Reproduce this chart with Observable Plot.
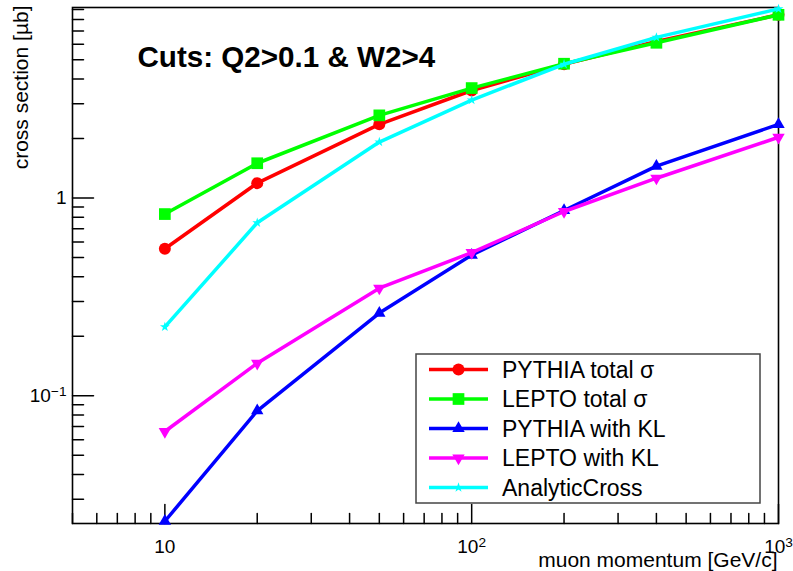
<!DOCTYPE html>
<html>
<head>
<meta charset="utf-8">
<script src="https://cdn.jsdelivr.net/npm/d3@7"></script>
<script src="https://cdn.jsdelivr.net/npm/@observablehq/plot@0.6"></script>
<style>
  html, body { margin: 0; padding: 0; background: #fff; }
  #chart svg { display: block; }
</style>
</head>
<body>
<div id="chart"></div>
<script>
// ---- data ----
const momentum = [10, 20, 50, 100, 200, 400, 1000];           // GeV/c
const pythiaTotal = [0.554, 1.19, 2.36, 3.50, 4.75, 6.2, 8.45];
const leptoTotal  = [0.83, 1.50, 2.62, 3.60, 4.78, 6.1, 8.45];
const pythiaKL    = [0.0232, 0.084, 0.262, 0.515, 0.865, 1.45, 2.36];
const leptoKL     = [0.066, 0.146, 0.35, 0.53, 0.855, 1.26, 2.03];
const analytic    = [0.223, 0.75, 1.92, 3.13, 4.75, 6.5, 9.05];

const seriesNames  = ["PYTHIA total σ", "LEPTO total σ", "PYTHIA with KL", "LEPTO with KL", "AnalyticCross"];
const seriesValues = [pythiaTotal, leptoTotal, pythiaKL, leptoKL, analytic];
const seriesColors = ["#ff0000", "#00ff00", "#0000ff", "#ff00ff", "#00ffff"];

const xMajorTicks  = [10, 100, 1000];
const xMajorLabels = ["10", "10²", "10³"];
const yMajorTicks  = [0.1, 1];
const yMajorLabels = ["10⁻¹", "1"];

const titleText  = "Cuts: Q2>0.1 & W2>4";
const xLabelText = "muon momentum [GeV/c]";
const yLabelText = "cross section [µb]";

// ---- derived ----
const xDomain = [5, 1000];
const yDomain = [0.0226, 9.2];
const rows = seriesNames.flatMap((name, i) =>
  momentum.map((p, j) => ({series: name, p, v: seriesValues[i][j]})));

const inside = (v, [a, b]) => v >= a && v <= b;
const xMinorTicks = [];
for (const d of [1, 10, 100]) for (let k = 2; k <= 9; k++) if (inside(k * d, xDomain)) xMinorTicks.push(k * d);
const yMinorTicks = [];
for (const d of [0.01, 0.1, 1]) for (let k = 2; k <= 9; k++) if (inside(k * d, yDomain)) yMinorTicks.push(k * d);

const triangleDown = {
  draw(context, size) {
    const y = -Math.sqrt(size / (Math.sqrt(3) * 3));
    context.moveTo(0, -y * 2);
    context.lineTo(-Math.sqrt(3) * y, y);
    context.lineTo(Math.sqrt(3) * y, y);
    context.closePath();
  }
};
const seriesSymbols = [d3.symbolCircle, d3.symbolSquare, d3.symbolTriangle, triangleDown, d3.symbolStar];
const seriesR = [6, 6.6, 4.6, 4.6, 3.1];

const fmt = (ticks, labels) => d => labels[ticks.indexOf(d)] ?? "";

const seriesMarks = seriesNames.flatMap((name, i) => {
  const data = rows.filter(r => r.series === name);
  return [
    Plot.line(data, {x: "p", y: "v", stroke: seriesColors[i], strokeWidth: 3.5}),
    Plot.dot(data, {x: "p", y: "v", fill: seriesColors[i], stroke: "none", r: seriesR[i], symbol: seriesSymbols[i]})
  ];
});

// inward ROOT-style ticks, drawn as plain vectors anchored on the frame
const tickShape = {draw(context, l) { context.moveTo(0, 0); context.lineTo(0, -l); }};
const tickStyle = {stroke: "#000", strokeWidth: 1.5, anchor: "start", shape: tickShape};
const xTicks = (ticks, len) => Plot.vector(ticks, {x: d => d, frameAnchor: "bottom", rotate: 0, length: len, ...tickStyle});
const yTicks = (ticks, len) => Plot.vector(ticks, {y: d => d, frameAnchor: "left", rotate: 90, length: len, ...tickStyle});

const chart = Plot.plot({
  width: 793,
  height: 571,
  marginLeft: 72,
  marginRight: 15,
  marginTop: 7,
  marginBottom: 48,
  style: {fontFamily: "'Liberation Sans', Arial, sans-serif", background: "#fff", color: "#000"},
  x: {type: "log", domain: xDomain},
  y: {type: "log", domain: yDomain},
  length: {type: "identity"},
  marks: [
    Plot.frame({stroke: "#000", strokeWidth: 1.6}),
    xTicks(xMinorTicks, 10),
    xTicks(xMajorTicks, 19),
    yTicks(yMinorTicks, 11),
    yTicks(yMajorTicks, 21),
    Plot.axisX({ticks: xMajorTicks, tickSize: 0, tickPadding: 16, tickFormat: fmt(xMajorTicks, xMajorLabels),
                label: null, fontSize: 19}),
    Plot.axisY({ticks: yMajorTicks, tickSize: 0, tickPadding: 6, tickFormat: fmt(yMajorTicks, yMajorLabels),
                label: null, fontSize: 19}),
    ...seriesMarks,
    Plot.text([titleText], {text: d => d, frameAnchor: "top-left", textAnchor: "start", lineAnchor: "top",
                            dx: 65, dy: 38, fontSize: 29.6, fontWeight: "bold", fill: "#000"}),
    Plot.text([yLabelText], {text: d => d, frameAnchor: "top-left", rotate: -90, textAnchor: "end", lineAnchor: "bottom",
                             dx: -45, dy: -2, fontSize: 21, fill: "#000"}),
    Plot.text([xLabelText], {text: d => d, frameAnchor: "bottom-right", textAnchor: "end", lineAnchor: "bottom",
                             dx: -1, dy: 43, fontSize: 21, fill: "#000"})
  ]
});

const svg = d3.select(chart);

// ---- ROOT-like superscripts for the power-of-ten tick labels ----
const supMap = {"⁻": "−", "⁰": "0", "¹": "1", "²": "2", "³": "3", "⁴": "4", "⁵": "5", "⁶": "6", "⁷": "7", "⁸": "8", "⁹": "9"};
svg.selectAll('g[aria-label$="tick label"] text').each(function () {
  const node = this.querySelector("tspan") || this;
  const m = node.textContent.match(/^(\d+)([⁻⁰¹²³⁴⁵⁶⁷⁸⁹]+)$/);
  if (!m) return;
  node.textContent = m[1];
  d3.select(node).append("tspan").attr("dy", "-0.45em").style("font-size", "0.72em")
    .text([...m[2]].map(c => supMap[c]).join(""));
});

// ---- legend box (ROOT TLegend style) drawn into the plot's svg ----
const lg = svg.append("g").attr("class", "legend");
const box = {x: 416, y: 354, w: 344, h: 149};
lg.append("rect").attr("x", box.x).attr("y", box.y).attr("width", box.w).attr("height", box.h)
  .attr("fill", "#fff").attr("stroke", "#444").attr("stroke-width", 1.5);
seriesNames.forEach((name, i) => {
  const cy = 369.5 + i * 29.5;
  lg.append("line").attr("x1", 429).attr("x2", 488).attr("y1", cy).attr("y2", cy)
    .attr("stroke", seriesColors[i]).attr("stroke-width", 3.5);
  lg.append("path").attr("transform", `translate(458.5,${cy})`)
    .attr("d", d3.symbol(seriesSymbols[i], Math.PI * seriesR[i] * seriesR[i])())
    .attr("fill", seriesColors[i]);
  lg.append("text").attr("x", 502).attr("y", cy + 8).text(name)
    .style("font-size", "23px").style("text-anchor", "start").attr("fill", "#000");
});

document.getElementById("chart").appendChild(chart);
</script>
</body>
</html>
